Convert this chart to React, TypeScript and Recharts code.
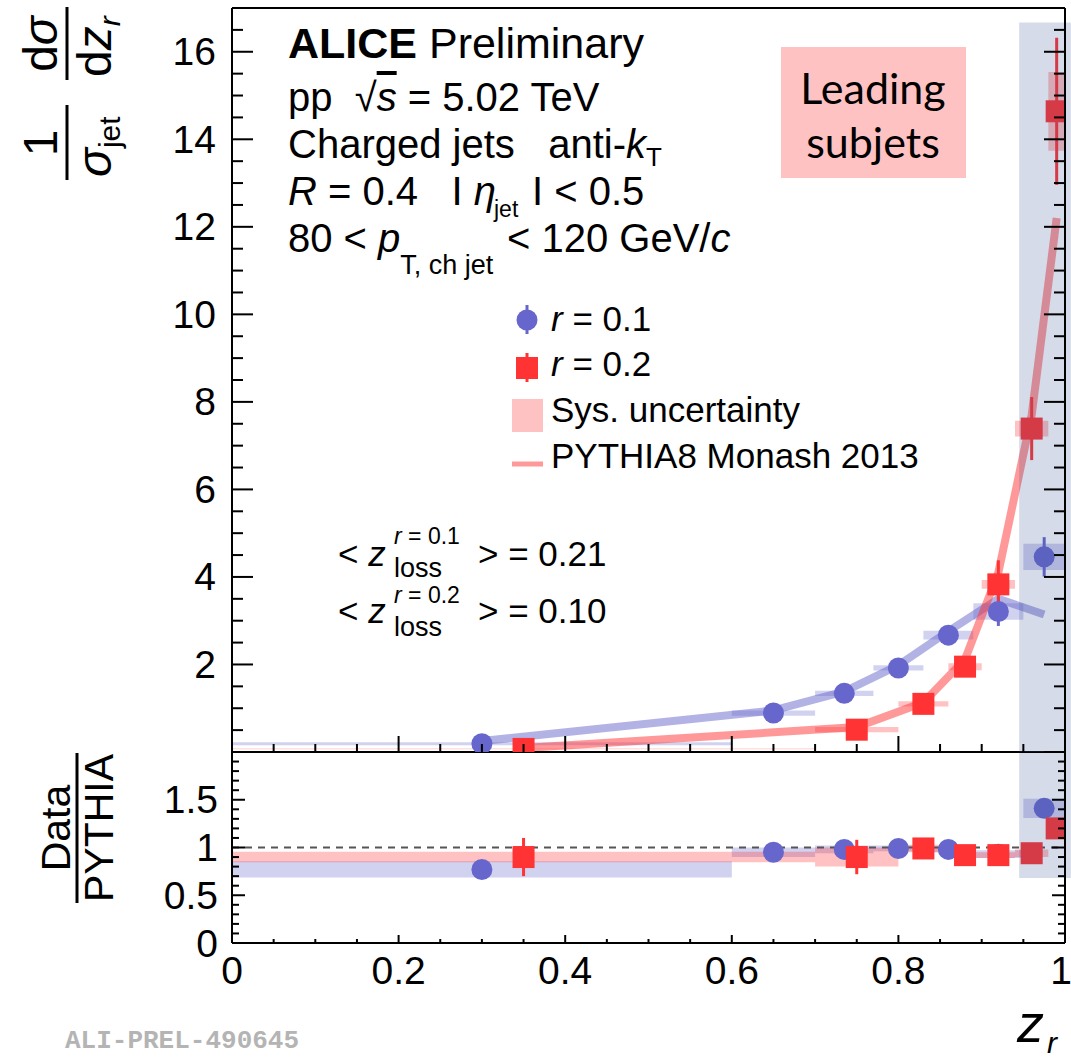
import React from 'react';
import {
    ComposedChart,
    XAxis,
    YAxis,
    Scatter,
    Line,
    ErrorBar,
    ReferenceArea,
    ReferenceLine
} from 'recharts';

const FONT = '"Liberation Sans", Arial, Helvetica, sans-serif';
const BLUE = '#6666cc';
const RED = '#ff3333';
const SHADE = '#385593';

// r = 0.1 subjets (circles): bin centres, bin edges, values, errors
const R1_X = [0.3, 0.65, 0.735, 0.8, 0.86, 0.92, 0.975];
const R1_LO = [0, 0.6, 0.7, 0.77, 0.83, 0.89, 0.95];
const R1_HI = [0.6, 0.7, 0.77, 0.83, 0.89, 0.95, 1.0];
const R1_Y = [0.19, 0.89, 1.34, 1.92, 2.67, 3.21, 4.46];
const R1_STAT = [0.02, 0.05, 0.08, 0.1, 0.14, 0.33, 0.45];
const R1_SYS = [0.035, 0.06, 0.06, 0.06, 0.1, 0.19, 0.3];
const R1_PYTHIA = [0.25, 0.95, 1.38, 1.98, 2.76, 3.5, 3.14];
const R1_RATIO = [0.77, 0.95, 0.98, 0.99, 0.98, 0.93, 1.41];
const R1_RATIO_STAT = [0.06, 0.05, 0.06, 0.05, 0.03, 0.05, 0.07];
const R1_RATIO_SYS = [0.085, 0.05, 0.04, 0.03, 0.03, 0.04, 0.1];

// r = 0.2 subjets (squares)
const R2_X = [0.35, 0.75, 0.83, 0.88, 0.92, 0.96, 0.99];
const R2_LO = [0, 0.7, 0.8, 0.86, 0.9, 0.94, 0.98];
const R2_HI = [0.7, 0.8, 0.86, 0.9, 0.94, 0.98, 1.0];
const R2_Y = [0.07, 0.51, 1.1, 1.95, 3.83, 7.39, 14.64];
const R2_STAT = [0.02, 0.06, 0.08, 0.16, 0.55, 0.72, 1.68];
const R2_SYS = [0.01, 0.06, 0.06, 0.08, 0.1, 0.18, 0.9];
const R2_PYTHIA = [0.09, 0.57, 1.13, 2.12, 4.1, 7.7, 12.2];
const R2_RATIO = [0.9, 0.9, 0.99, 0.92, 0.92, 0.94, 1.2];
const R2_RATIO_STAT = [0.2, 0.18, 0.09, 0.07, 0.06, 0.04, 0.1];
const R2_RATIO_SYS = [0.055, 0.1, 0.04, 0.03, 0.03, 0.04, 0.1];

// leading-subjet shaded band
const SHADE_X = [0.945, 1.007];
const SHADE_TOP_Y = [0, 16.67];
const SHADE_RATIO_Y = [0.68, 2];

// axis ticks
const X_LABELS = [0, 0.2, 0.4, 0.6, 0.8, 1];
const TOP_Y_LABELS = [2, 4, 6, 8, 10, 12, 14, 16];
const RATIO_Y_LABELS = [0, 0.5, 1, 1.5];

// layout (page pixels)
const W = 1071;
const H = 1061;
const PL = 232;
const PR = 1065;
const PT = 8;
const PM = 752;
const PB = 943;

const steps = (a: number, b: number, step: number) =>
    Array.from({ length: Math.round((b - a) / step) + 1 }, (_, i) => Math.round((a + i * step) * 1000) / 1000);

const X_TICKS = steps(0, 1, 0.05);
const TOP_Y_TICKS = steps(0, 17, 0.5);
const RATIO_Y_TICKS = steps(0, 2, 0.1);

const near = (list: number[], v: number) => list.some((m) => Math.abs(m - v) < 1e-6);
const fmt = (v: number) => String(Number(v.toFixed(2)));

function yTick(majors: number[], labels: number[], majorLen: number, minorLen: number, gap: number) {
    return (props: any) => {
        const { x, y, payload } = props;
        const v = payload.value;
        const len = near(majors, v) ? majorLen : minorLen;
        const right = x + (PR - PL);
        return (
            <g>
                <line x1={x} x2={x + len} y1={y} y2={y} stroke="#000" strokeWidth={2} />
                <line x1={right} x2={right - len} y1={y} y2={y} stroke="#000" strokeWidth={2} />
                {near(labels, v) && (
                    <text x={x - gap} y={y} textAnchor="end" dominantBaseline="central" fontSize={39} fontFamily={FONT} fill="#000">
                        {fmt(v)}
                    </text>
                )}
            </g>
        );
    };
}

function xTick(majorLen: number, minorLen: number, showLabels: boolean) {
    return (props: any) => {
        const { x, y, payload } = props;
        const v = payload.value;
        const len = near(X_LABELS, v) ? majorLen : minorLen;
        // keep the last label inside the page, like the reference
        const lx = v === 1 ? x - 4 : x;
        return (
            <g>
                <line x1={x} x2={x} y1={y} y2={y - len} stroke="#000" strokeWidth={2} />
                {showLabels && near(X_LABELS, v) && (
                    <text x={lx} y={y + 27} textAnchor="middle" dominantBaseline="central" fontSize={39} fontFamily={FONT} fill="#000">
                        {fmt(v)}
                    </text>
                )}
            </g>
        );
    };
}

const circleShape = (p: any) => <circle cx={p.cx} cy={p.cy} r={10.5} fill={BLUE} />;
const squareShape = (p: any) => <rect x={p.cx - 11} y={p.cy - 11} width={22} height={22} fill={RED} />;

const r1Points = R1_X.map((x, i) => ({ x, y: R1_Y[i], err: R1_STAT[i] }));
const r2Points = R2_X.map((x, i) => ({ x, y: R2_Y[i], err: R2_STAT[i] }));
const r1Pythia = R1_X.map((x, i) => ({ x, y: R1_PYTHIA[i] }));
const r2Pythia = R2_X.map((x, i) => ({ x, y: R2_PYTHIA[i] }));
const r1Ratio = R1_X.map((x, i) => ({ x, y: R1_RATIO[i], err: R1_RATIO_STAT[i] }));
const r2Ratio = R2_X.map((x, i) => ({ x, y: R2_RATIO[i], err: R2_RATIO_STAT[i] }));

function sysBoxes(prefix: string, lo: number[], hi: number[], ys: number[], sys: number[], color: string) {
    return lo.map((x1, i) => (
        <ReferenceArea
            key={`${prefix}-${i}`}
            x1={x1}
            x2={hi[i]}
            y1={ys[i] - sys[i]}
            y2={ys[i] + sys[i]}
            fill={color}
            fillOpacity={0.3}
            stroke="none"
            ifOverflow="visible"
            zIndex={50}
        />
    ));
}

const axisLine = { stroke: '#000', strokeWidth: 2 };

function TopPanel() {
    return (
        <ComposedChart width={W} height={PM + 1} margin={{ top: PT, right: W - PR, bottom: 0, left: PL - 60 }}>
            {sysBoxes('b', R1_LO, R1_HI, R1_Y, R1_SYS, BLUE)}
            {sysBoxes('r', R2_LO, R2_HI, R2_Y, R2_SYS, RED)}
            <Line data={r1Pythia} dataKey="y" type="linear" stroke={BLUE} strokeOpacity={0.5} strokeWidth={8} dot={false} activeDot={false} isAnimationActive={false} />
            <Line data={r2Pythia} dataKey="y" type="linear" stroke={RED} strokeOpacity={0.5} strokeWidth={8} dot={false} activeDot={false} isAnimationActive={false} />
            <Scatter data={r1Points} dataKey="y" shape={circleShape} isAnimationActive={false}>
                <ErrorBar dataKey="err" direction="y" width={0} stroke={BLUE} strokeWidth={3} isAnimationActive={false} />
            </Scatter>
            <Scatter data={r2Points} dataKey="y" shape={squareShape} isAnimationActive={false}>
                <ErrorBar dataKey="err" direction="y" width={0} stroke={RED} strokeWidth={3} isAnimationActive={false} />
            </Scatter>
            <ReferenceArea x1={SHADE_X[0]} x2={SHADE_X[1]} y1={SHADE_TOP_Y[0]} y2={SHADE_TOP_Y[1]} fill={SHADE} fillOpacity={0.21} stroke="none" ifOverflow="visible" zIndex={700} />
            <ReferenceLine y={17} stroke="#000" strokeWidth={2} zIndex={800} />
            <ReferenceLine x={1} stroke="#000" strokeWidth={2} zIndex={800} />
            <XAxis type="number" dataKey="x" domain={[0, 1]} allowDataOverflow ticks={X_TICKS} interval={0}
                tick={xTick(16, 8, false)} tickSize={0} tickMargin={0} tickLine={false} height={1} axisLine={axisLine} />
            <YAxis type="number" dataKey="y" domain={[0, 17]} allowDataOverflow ticks={TOP_Y_TICKS} interval={0}
                tick={yTick([0, ...TOP_Y_LABELS], TOP_Y_LABELS, 21, 11, 16)} tickSize={0} tickMargin={0} tickLine={false} width={60} axisLine={axisLine} />
        </ComposedChart>
    );
}

function RatioPanel() {
    const h = H - PM;
    return (
        <ComposedChart width={W} height={h} margin={{ top: 0, right: W - PR, bottom: 0, left: PL - 60 }}>
            {sysBoxes('bb', R1_LO, R1_HI, R1_RATIO, R1_RATIO_SYS, BLUE)}
            {sysBoxes('rr', R2_LO, R2_HI, R2_RATIO, R2_RATIO_SYS, RED)}
            <ReferenceLine y={1} stroke="#555" strokeWidth={2} strokeDasharray="7 6" />
            <Scatter data={r1Ratio} dataKey="y" shape={circleShape} isAnimationActive={false}>
                <ErrorBar dataKey="err" direction="y" width={0} stroke={BLUE} strokeWidth={3} isAnimationActive={false} />
            </Scatter>
            <Scatter data={r2Ratio} dataKey="y" shape={squareShape} isAnimationActive={false}>
                <ErrorBar dataKey="err" direction="y" width={0} stroke={RED} strokeWidth={3} isAnimationActive={false} />
            </Scatter>
            <ReferenceArea x1={SHADE_X[0]} x2={SHADE_X[1]} y1={SHADE_RATIO_Y[0]} y2={SHADE_RATIO_Y[1]} fill={SHADE} fillOpacity={0.21} stroke="none" ifOverflow="visible" zIndex={700} />
            <ReferenceLine y={2} stroke="#000" strokeWidth={2} zIndex={800} />
            <ReferenceLine x={1} stroke="#000" strokeWidth={2} zIndex={800} />
            <XAxis type="number" dataKey="x" domain={[0, 1]} allowDataOverflow ticks={X_TICKS} interval={0}
                tick={xTick(8, 4, true)} tickSize={0} tickMargin={0} tickLine={false} height={h - (PB - PM)} axisLine={axisLine} />
            <YAxis type="number" dataKey="y" domain={[0, 2]} allowDataOverflow ticks={RATIO_Y_TICKS} interval={0}
                tick={yTick(RATIO_Y_LABELS, RATIO_Y_LABELS, 13, 7, 14)} tickSize={0} tickMargin={0} tickLine={false} width={60} axisLine={axisLine} />
        </ComposedChart>
    );
}

const pre = { whiteSpace: 'pre' as const };

function Annotations() {
    return (
        <svg width={W} height={H} style={{ position: 'absolute', left: 0, top: 0, pointerEvents: 'none' }} fontFamily={FONT}>
            {/* y title, top panel */}
            <g transform="translate(67,185) rotate(-90)">
                <text x={42} y={-10} fontSize={48} textAnchor="middle">1</text>
                <line x1={5} x2={80} y1={0} y2={0} stroke="#000" strokeWidth={3} />
                <text x={8} y={44} fontSize={48}>
                    <tspan fontStyle="italic">σ</tspan>
                    <tspan fontSize={30} dy={9}>jet</tspan>
                </text>
                <text x={141} y={-10} fontSize={48} textAnchor="middle">
                    d<tspan fontStyle="italic">σ</tspan>
                </text>
                <line x1={105} x2={178} y1={0} y2={0} stroke="#000" strokeWidth={3} />
                <text x={108} y={44} fontSize={48}>
                    d<tspan fontStyle="italic">z</tspan>
                    <tspan fontSize={30} dy={9} fontStyle="italic">r</tspan>
                </text>
            </g>
            {/* y title, ratio panel */}
            <g transform="translate(77,828) rotate(-90)">
                <text x={0} y={-7} fontSize={41} textAnchor="middle">Data</text>
                <line x1={-75} x2={75} y1={0} y2={0} stroke="#000" strokeWidth={3} />
                <text x={0} y={36} fontSize={41} textAnchor="middle">PYTHIA</text>
            </g>

            {/* header */}
            <text x={288} y={58} fontSize={43} style={pre}>
                <tspan fontWeight="bold">ALICE</tspan> Preliminary
            </text>
            <text x={288} y={111} fontSize={40} style={pre}>
                {'pp  √'}<tspan fontStyle="italic" textDecoration="overline">s</tspan>{' = 5.02 TeV'}
            </text>
            <text x={288} y={158} fontSize={40} style={pre}>
                {'Charged jets   anti-'}<tspan fontStyle="italic">k</tspan>
                <tspan fontSize={26} dy={8}>T</tspan>
            </text>
            <text x={288} y={205} fontSize={40} style={pre}>
                <tspan fontStyle="italic">R</tspan>{' = 0.4   I '}<tspan fontStyle="italic">η</tspan>
                <tspan fontSize={23} dy={12} x={494}>jet</tspan>
                <tspan dy={-12} x={532}>{'I < 0.5'}</tspan>
            </text>
            <text x={288} y={252} fontSize={40} style={pre}>
                {'80 < '}<tspan fontStyle="italic">p</tspan>
                <tspan fontSize={27} dy={22}>T, ch jet</tspan>
                <tspan dy={-22} x={507}>{'< 120 GeV/'}</tspan>
                <tspan fontStyle="italic">c</tspan>
            </text>

            {/* Leading subjets box */}
            <rect x={781} y={47} width={185} height={131} fill="#ffc2c2" />
            <text x={873} y={104} fontSize={43} textAnchor="middle" fontFamily="Lato, 'Open Sans', sans-serif">Leading</text>
            <text x={873} y={158} fontSize={43} textAnchor="middle" fontFamily="Lato, 'Open Sans', sans-serif">subjets</text>

            {/* legend */}
            <line x1={527} x2={527} y1={305} y2={334} stroke={BLUE} strokeWidth={3} />
            <circle cx={527} cy={320} r={10.5} fill={BLUE} />
            <text x={551} y={331} fontSize={35} style={pre}><tspan fontStyle="italic">r</tspan>{' = 0.1'}</text>
            <line x1={527} x2={527} y1={353} y2={382} stroke={RED} strokeWidth={3} />
            <rect x={516} y={357} width={22} height={22} fill={RED} />
            <text x={551} y={376} fontSize={35} style={pre}><tspan fontStyle="italic">r</tspan>{' = 0.2'}</text>
            <rect x={512} y={399} width={31} height={33} fill="#ffc2c2" />
            <text x={551} y={422} fontSize={35}>Sys. uncertainty</text>
            <line x1={512} x2={543} y1={464} y2={464} stroke="#ff9999" strokeWidth={5} />
            <text x={551} y={468} fontSize={35}>PYTHIA8 Monash 2013</text>

            {/* mean z_loss */}
            <text x={338} y={566} fontSize={35} style={pre}>{'< '}<tspan fontStyle="italic">z</tspan></text>
            <text x={394} y={544} fontSize={23} style={pre}><tspan fontStyle="italic">r</tspan>{' = 0.1'}</text>
            <text x={394} y={577} fontSize={27}>loss</text>
            <text x={478} y={566} fontSize={35} style={pre}>{'> = 0.21'}</text>
            <text x={338} y={623} fontSize={35} style={pre}>{'< '}<tspan fontStyle="italic">z</tspan></text>
            <text x={394} y={603} fontSize={23} style={pre}><tspan fontStyle="italic">r</tspan>{' = 0.2'}</text>
            <text x={394} y={636} fontSize={27}>loss</text>
            <text x={478} y={623} fontSize={35} style={pre}>{'> = 0.10'}</text>

            {/* x title */}
            <text x={1017} y={1042} fontSize={54} fontStyle="italic">z</text>
            <text x={1047} y={1053} fontSize={30} fontStyle="italic">r</text>

            <text x={65} y={1048} fontSize={26} fontWeight="bold" fill="#b4b4b4" fontFamily='"Liberation Mono", "DejaVu Sans Mono", monospace'>
                ALI-PREL-490645
            </text>
        </svg>
    );
}

export default function App() {
    return (
        <div style={{ position: 'absolute', left: 0, top: 0, width: W, height: H, background: '#fff', overflow: 'hidden' }}>
            <div style={{ position: 'absolute', left: 0, top: 0 }}>
                <TopPanel />
            </div>
            <div style={{ position: 'absolute', left: 0, top: PM }}>
                <RatioPanel />
            </div>
            <Annotations />
        </div>
    );
}
